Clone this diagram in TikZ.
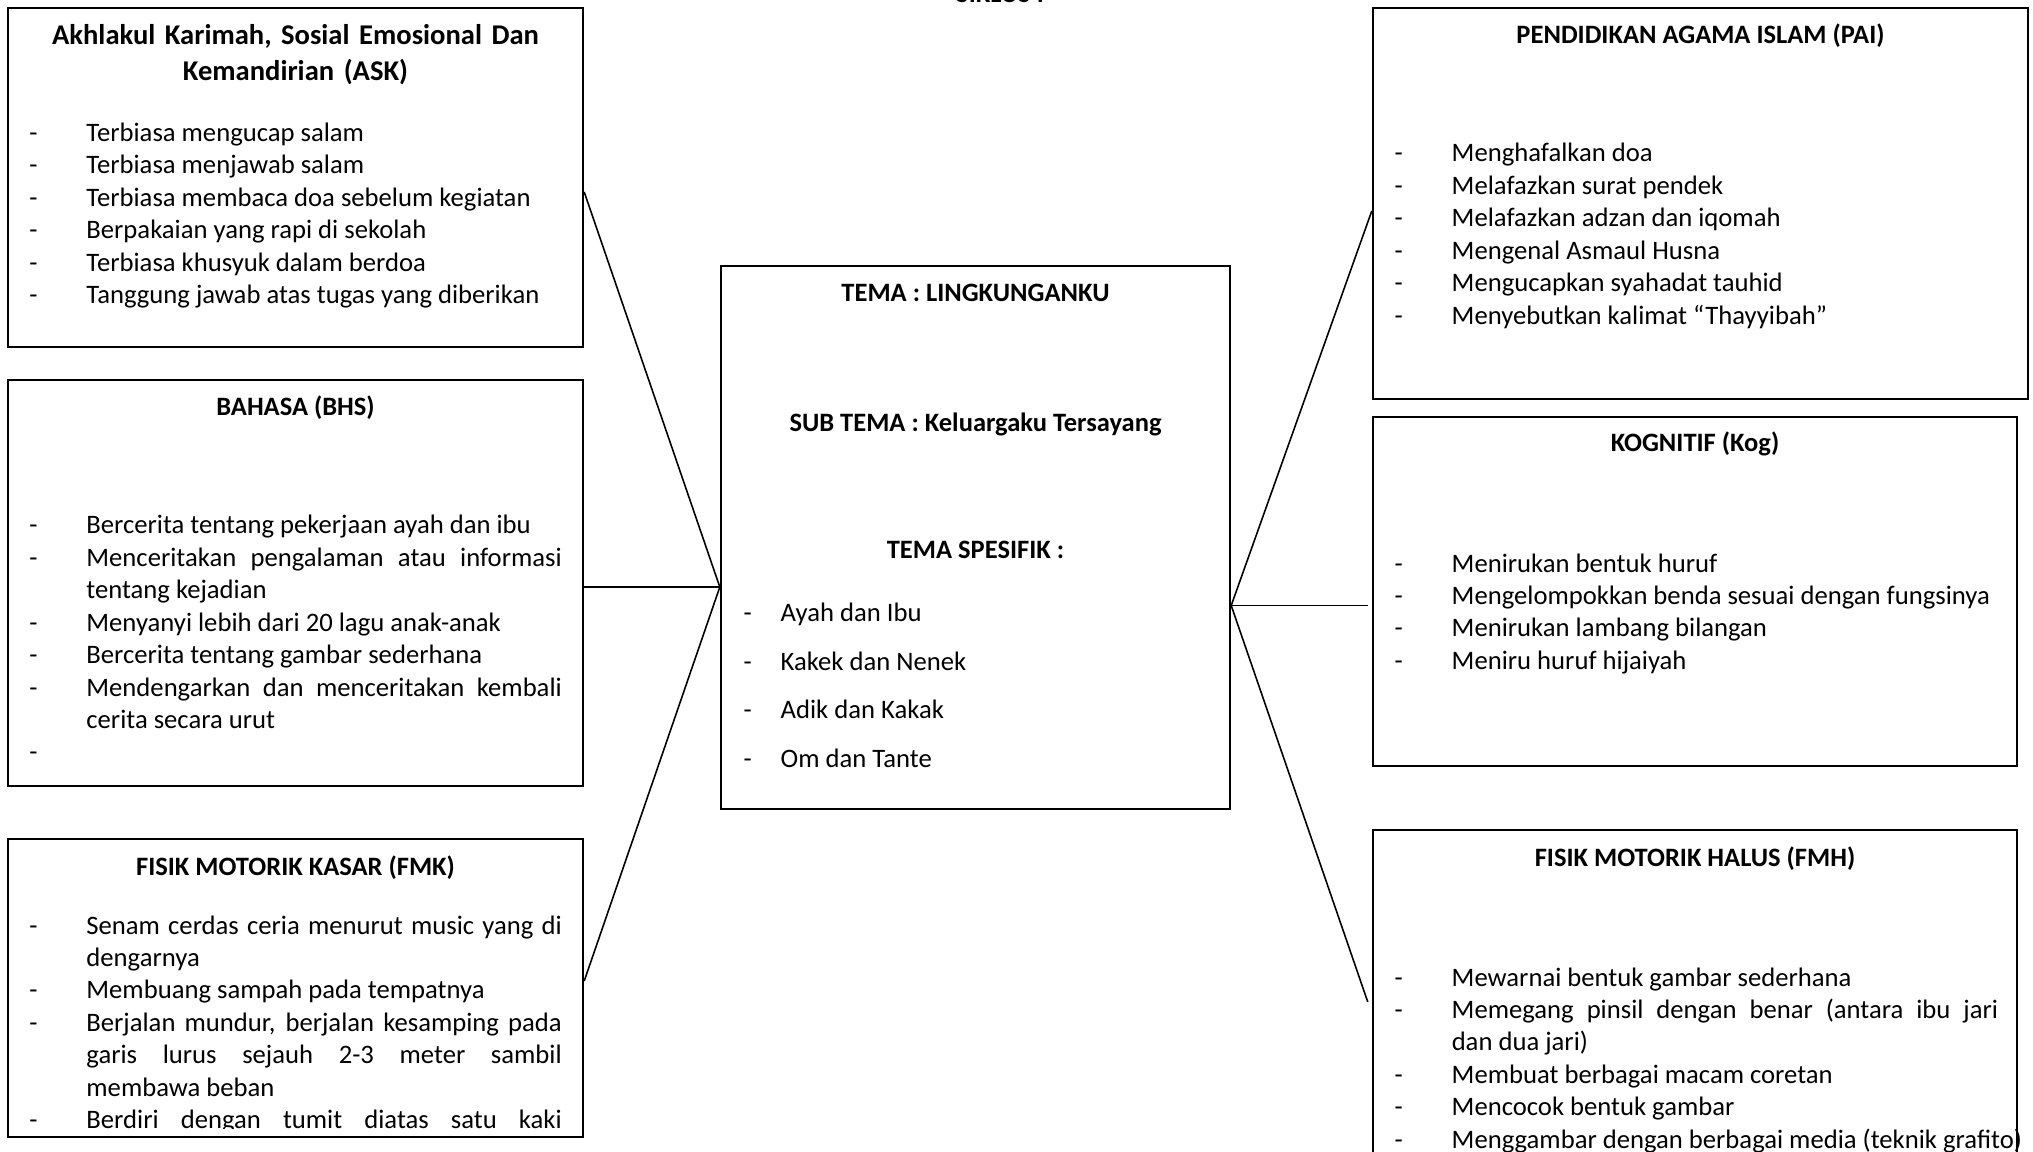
\documentclass[tikz,border=0pt]{standalone}
\usepackage{fontspec}
\setmainfont{Carlito}
\usetikzlibrary{positioning}
\newlength\lekuk
\newcommand{\butir}[1]{\hangindent=\lekuk\hangafter=1\noindent\makebox[\lekuk][l]{-}#1\par}
\newcommand{\isi}{\fontsize{7.58pt}{9.22pt}\selectfont\hyphenpenalty=10000\exhyphenpenalty=10000}
\newcommand{\tebal}{\fontsize{7.54pt}{9.22pt}\selectfont\bfseries}
\begin{document}
\begin{tikzpicture}[x=0.01cm, y=-0.01cm,
kotak/.style={draw, line width=0.6pt, inner sep=0pt},
judul/.style={font=\tebal, anchor=base, inner sep=0pt},
daftar/.style={font=\isi, anchor=base west, inner sep=0pt, text width=#1, align=justify},
garis/.style={line width=0.45pt}]
\useasboundingbox (0,0) rectangle (2033,1152);
\clip (0,0) rectangle (2033,1152);
\node[judul] (siklus) at (1000,3) {SIKLUS I};
\node[kotak, minimum width=5.75cm, minimum height=3.39cm] (ask) at (295.5,177.5) {};
\node[kotak, minimum width=5.75cm, minimum height=4.06cm] (bhs) at (295.5,583) {};
\node[kotak, minimum width=5.75cm, minimum height=2.98cm] (fmk) at (295.5,988) {};
\node[kotak, minimum width=5.09cm, minimum height=5.43cm] (tema) at (975.5,537.5) {};
\node[kotak, minimum width=6.55cm, minimum height=3.91cm] (pai) at (1700.5,203.5) {};
\node[kotak, minimum width=6.44cm, minimum height=3.49cm] (kog) at (1695,591.5) {};
\node[kotak, minimum width=6.44cm, minimum height=4.70cm] (fmh) at (1695,1065) {};
\node[font=\fontsize{8.13pt}{9.96pt}\selectfont\bfseries, text width=5.5cm, align=center,
  anchor=base, inner sep=0pt] (askjudul) at (295.5,45)
  {Akhlakul Karimah, Sosial Emosional Dan\\Kemandirian (ASK)};
\node[daftar=5.32cm] (askisi) at (28.7,141.5) {\setlength\lekuk{0.57cm}%
  \butir{Terbiasa mengucap salam}
  \butir{Terbiasa menjawab salam}
  \butir{Terbiasa membaca doa sebelum kegiatan}
  \butir{Berpakaian yang rapi di sekolah}
  \butir{Terbiasa khusyuk dalam berdoa}
  \butir{Tanggung jawab atas tugas yang diberikan}};
\node[judul] (bhsjudul) at (295.5,415.5) {BAHASA (BHS)};
\node[daftar=5.32cm] (bhsisi) at (28.7,534) {\setlength\lekuk{0.57cm}%
  \butir{Bercerita tentang pekerjaan ayah dan ibu}
  \butir{Menceritakan pengalaman atau informasi tentang kejadian}
  \butir{Menyanyi lebih dari 20 lagu anak-anak}
  \butir{Bercerita tentang gambar sederhana}
  \butir{Mendengarkan dan menceritakan kembali cerita secara urut}
  \butir{}};
\node[judul] (fmkjudul) at (295.5,875) {FISIK MOTORIK KASAR (FMK)};
\begin{scope}
\clip (8,839) rectangle (583,1128);
\node[daftar=5.32cm] (fmkisi) at (28.7,934) {\setlength\lekuk{0.57cm}%
  \butir{Senam cerdas ceria menurut music yang di\linebreak dengarnya}
  \butir{Membuang sampah pada tempatnya}
  \butir{Berjalan mundur, berjalan kesamping pada\linebreak garis lurus sejauh 2-3 meter sambil\linebreak membawa beban}
  \butir{Berdiri dengan tumit diatas satu kaki\linebreak}};
\end{scope}
\node[judul] (tema1) at (975.5,302) {TEMA : LINGKUNGANKU};
\node[judul] (subtema) at (975.5,431.5) {SUB TEMA : Keluargaku Tersayang};
\node[judul] (spesifik) at (975.5,559) {TEMA SPESIFIK :};
\node[daftar=4.6cm, font=\fontsize{7.58pt}{13.83pt}\selectfont] (temaisi) at (743,621.7)
  {\setlength\lekuk{0.37cm}%
  \butir{Ayah dan Ibu}
  \butir{Kakek dan Nenek}
  \butir{Adik dan Kakak}
  \butir{Om dan Tante}};
\node[judul] (paijudul) at (1700.5,44) {PENDIDIKAN AGAMA ISLAM (PAI)};
\node[daftar=6.2cm] (paiisi) at (1394,162) {\setlength\lekuk{0.57cm}%
  \butir{Menghafalkan doa}
  \butir{Melafazkan surat pendek}
  \butir{Melafazkan adzan dan iqomah}
  \butir{Mengenal Asmaul Husna}
  \butir{Mengucapkan syahadat tauhid}
  \butir{Menyebutkan kalimat “Thayyibah”}};
\node[judul] (kogjudul) at (1695,452) {KOGNITIF (Kog)};
\node[daftar=6.2cm] (kogisi) at (1394,572) {\setlength\lekuk{0.57cm}%
  \butir{Menirukan bentuk huruf}
  \butir{Mengelompokkan benda sesuai dengan fungsinya}
  \butir{Menirukan lambang bilangan}
  \butir{Meniru huruf hijaiyah}};
\node[judul] (fmhjudul) at (1695,866) {FISIK MOTORIK HALUS (FMH)};
\node[daftar=6.03cm] (fmhisi) at (1394,986) {\setlength\lekuk{0.57cm}%
  \butir{Mewarnai bentuk gambar sederhana}
  \butir{Memegang pinsil dengan benar (antara ibu jari\linebreak dan dua jari)}
  \butir{Membuat berbagai macam coretan}
  \butir{Mencocok bentuk gambar}
  \butir{\mbox{Menggambar dengan berbagai media (teknik grafito)}}};
\coordinate (kiri) at ([yshift=-0.495cm]tema.west);
\coordinate (kanan) at ([yshift=-0.68cm]tema.east);
\draw[garis] ([yshift=-0.145cm]ask.east) -- (kiri);
\draw[garis] (bhs.east |- kiri) -- (kiri);
\draw[garis] ([yshift=0.07cm]fmk.east) -- (kiri);
\draw[garis] (kanan) -- ([yshift=-0.075cm]pai.west);
\draw[garis] (kanan) -- ([xshift=-0.04cm]kog.west |- kanan);
\draw[garis] (kanan) -- ([xshift=-0.04cm,yshift=0.63cm]fmh.west);
\end{tikzpicture}
\end{document}
